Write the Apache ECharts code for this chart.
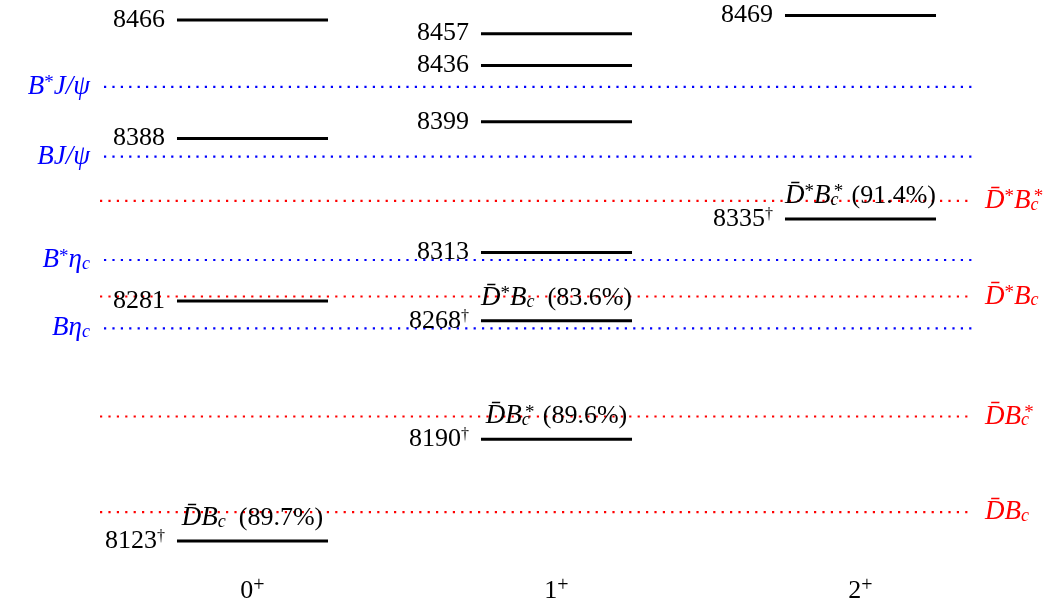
<!DOCTYPE html>
<html>
<head>
<meta charset="utf-8">
<script src="https://cdn.jsdelivr.net/npm/echarts@6/dist/echarts.min.js"></script>
<style>
html,body{margin:0;padding:0;background:#fff;}
#c{width:1057px;height:606px;}
</style>
</head>
<body>
<div id="c"></div>
<script>
// ---- data ----
const columnLabels = ['0', '1', '2'];           // J^P, superscript "+"
const masses0 = [8466, 8388, 8281, 8123];
const masses1 = [8457, 8436, 8399, 8313, 8268, 8190];
const masses2 = [8469, 8335];
const daggerMasses = [8123, 8190, 8268, 8335];
const annotationMasses = [8123, 8190, 8268, 8335];
const annotationNames = ['D̄B_c', 'D̄B_c^*', 'D̄^*B_c', 'D̄^*B_c^*'];
const annotationPercents = [89.7, 89.6, 83.6, 91.4];
const blueNames = ['B^*J/ψ', 'BJ/ψ', 'B^*η_c', 'Bη_c'];
const blueValues = [8422, 8376, 8308, 8263];
const redNames = ['D̄^*B_c^*', 'D̄^*B_c', 'D̄B_c^*', 'D̄B_c'];
const redValues = [8347, 8284, 8205, 8142];

// ---- styling ----
const F = 'Liberation Serif';
const FS = 26;
const RICH = {
  i:    {fontFamily: F, fontSize: 27, fontStyle: 'italic', lineHeight: 30},
  n:    {fontFamily: F, fontSize: FS, lineHeight: 30},
  ast:  {fontFamily: F, fontSize: 19, lineHeight: 30, height: 23, verticalAlign: 'top'},
  astz: {fontFamily: F, fontSize: 19, lineHeight: 30, height: 23, verticalAlign: 'top', width: 0, align: 'center'},
  plus: {fontFamily: F, fontSize: 20, lineHeight: 30, height: 20, verticalAlign: 'top'},
  dag:  {fontFamily: F, fontSize: 16, lineHeight: 30, height: 22, verticalAlign: 'top'},
  sub:  {fontFamily: F, fontSize: 18, fontStyle: 'italic', lineHeight: 30, height: 22, verticalAlign: 'bottom'}
};

function toRich(s) {
  return s.split(/(_c\^\*|_c|\^\*)/).map(p => {
    if (p === '_c^*') return '{sub|c}{astz|*}';
    if (p === '_c') return '{sub|c}';
    if (p === '^*') return '{ast|*}';
    return p ? '{i|' + p + '}' : '';
  }).join('');
}

const HALF = 0.2484;           // half width of a level bar (x units)
const BLUE_X = [-0.4885, 2.3766];
const RED_X = [-0.5016, 2.3602];

const levelData = [];
[masses0, masses1, masses2].forEach((arr, col) => arr.forEach(m => levelData.push([col, m])));

function renderLevel(params, api) {
  const col = api.value(0), m = api.value(1);
  const p1 = api.coord([col - HALF, m]);
  const p2 = api.coord([col + HALF, m]);
  const children = [
    {type: 'line', shape: {x1: p1[0], y1: p1[1], x2: p2[0], y2: p2[1]},
     style: {stroke: '#000', lineWidth: 3}},
    {type: 'text', style: {
      text: '{n|' + m + '}' + (daggerMasses.indexOf(m) >= 0 ? '{dag|†}' : ''),
      rich: RICH, x: p1[0] - 12, y: p1[1], align: 'right', verticalAlign: 'middle',
      fill: '#000', fontFamily: F, fontSize: FS}}
  ];
  const k = annotationMasses.indexOf(m);
  if (k >= 0) {
    children.push({type: 'text', style: {
      text: toRich(annotationNames[k]) + '{n|  (' + annotationPercents[k].toFixed(1) + '%)}',
      rich: RICH, x: (p1[0] + p2[0]) / 2, y: p1[1] - 23, align: 'center', verticalAlign: 'middle',
      fill: '#000', fontFamily: F, fontSize: FS}});
  }
  return {type: 'group', children};
}

function makeThreshold(names, values, color, xr, side) {
  return {
    type: 'custom',
    coordinateSystem: 'cartesian2d',
    data: values.map(v => [0, v]),
    encode: {x: 0, y: 1},
    silent: true,
    renderItem: function (params, api) {
      const m = api.value(1);
      const p1 = api.coord([xr[0], m]);
      const p2 = api.coord([xr[1], m]);
      const name = names[params.dataIndex];
      return {type: 'group', children: [
        {type: 'line', shape: {x1: p1[0], y1: p1[1], x2: p2[0], y2: p2[1]},
         style: {stroke: color, lineWidth: 2.2, lineDash: [2.2, 6.2]}},
        {type: 'text', style: {
          text: toRich(name), rich: RICH,
          x: side === 'left' ? p1[0] - 14 : p2[0] + 15, y: p1[1],
          align: side === 'left' ? 'right' : 'left', verticalAlign: 'middle',
          fill: color, fontFamily: F, fontSize: FS}}
      ]};
    }
  };
}

const chart = echarts.init(document.getElementById('c'), null, {renderer: 'canvas'});
chart.setOption({
  animation: false,
  backgroundColor: '#fff',
  grid: {left: 100.5, width: 912, top: 0.25, height: 575.75},
  xAxis: {
    type: 'value', min: -0.5, max: 2.5,
    axisLine: {show: false}, axisTick: {show: false}, splitLine: {show: false},
    axisLabel: {
      customValues: [0, 1, 2], margin: 0,
      formatter: v => '{n|' + columnLabels[Math.round(v)] + '}{plus|+}',
      rich: RICH, color: '#000'
    }
  },
  yAxis: {type: 'value', min: 8100, max: 8479, show: false},
  series: [
    makeThreshold(blueNames, blueValues, '#0000ff', BLUE_X, 'left'),
    makeThreshold(redNames, redValues, '#ff0000', RED_X, 'right'),
    {type: 'custom', coordinateSystem: 'cartesian2d', data: levelData,
     encode: {x: 0, y: 1}, silent: true, renderItem: renderLevel, z: 3}
  ]
});
</script>
</body>
</html>
